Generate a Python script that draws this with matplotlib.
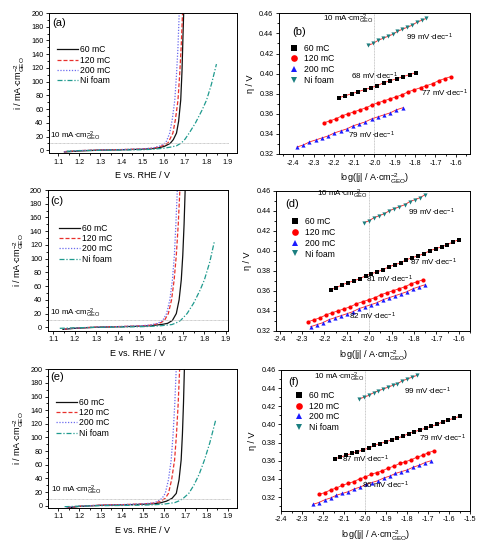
import matplotlib
matplotlib.use("Agg")
import matplotlib.pyplot as plt
from matplotlib.ticker import MultipleLocator, FormatStrFormatter

plt.rcParams['font.family'] = ['Liberation Sans', 'DejaVu Sans']
plt.rcParams['mathtext.default'] = 'regular'
plt.rcParams['axes.unicode_minus'] = False

# ---------------- data: LSV panels ----------------
series_names = ["60 mC", "120 mC", "200 mC", "Ni foam"]

E_a_60 = [1.13, 1.20, 1.30, 1.40, 1.50, 1.55, 1.58, 1.605, 1.63, 1.645, 1.66, 1.67, 1.68, 1.686, 1.691, 1.695]
i_a_60 = [-2.5, -1.0, 0.2, 0.8, 1.5, 2.5, 3.8, 6.0, 10.0, 15.5, 25.0, 42.0, 73.0, 115.0, 170.0, 210.0]
E_a_120 = [1.13, 1.20, 1.30, 1.40, 1.50, 1.55, 1.58, 1.60, 1.62, 1.643, 1.655, 1.667, 1.675, 1.682, 1.690]
i_a_120 = [-2.0, -0.5, 0.5, 1.0, 1.8, 3.0, 5.0, 7.5, 10.7, 25.0, 45.0, 73.0, 110.0, 150.0, 210.0]
E_a_200 = [1.13, 1.20, 1.30, 1.40, 1.50, 1.55, 1.58, 1.609, 1.628, 1.640, 1.652, 1.660, 1.667, 1.674]
i_a_200 = [-2.0, -0.5, 0.5, 1.0, 2.0, 3.5, 6.0, 10.7, 25.0, 45.0, 73.0, 110.0, 150.0, 210.0]
E_a_ni = [1.14, 1.20, 1.30, 1.40, 1.50, 1.55, 1.60, 1.63, 1.66, 1.683, 1.70, 1.72, 1.75, 1.78, 1.802, 1.825, 1.849]
i_a_ni = [-1.5, -0.5, 0.0, 0.3, 0.8, 1.5, 3.0, 4.5, 6.5, 10.7, 16.0, 25.0, 40.0, 58.0, 73.0, 96.0, 125.6]

E_c_60 = [1.145, 1.20, 1.30, 1.40, 1.50, 1.55, 1.58, 1.61, 1.63, 1.652, 1.67, 1.683, 1.693, 1.70, 1.706, 1.712]
i_c_60 = [-3.0, -1.5, 0.0, 0.8, 1.5, 2.3, 3.3, 4.5, 5.8, 10.0, 20.0, 40.0, 69.0, 105.0, 150.0, 210.0]
E_c_120 = [1.15, 1.20, 1.30, 1.40, 1.50, 1.55, 1.58, 1.60, 1.615, 1.633, 1.648, 1.66, 1.670, 1.679, 1.688]
i_c_120 = [-2.5, -1.2, 0.3, 1.0, 1.8, 3.0, 4.8, 7.0, 10.0, 20.0, 40.0, 69.0, 105.0, 150.0, 210.0]
E_c_200 = [1.15, 1.20, 1.30, 1.40, 1.50, 1.55, 1.58, 1.595, 1.607, 1.625, 1.640, 1.652, 1.661, 1.668, 1.676]
i_c_200 = [-2.5, -1.2, 0.3, 1.0, 2.0, 3.3, 5.5, 7.5, 10.0, 20.0, 40.0, 69.0, 105.0, 150.0, 210.0]
E_c_ni = [1.13, 1.20, 1.30, 1.40, 1.50, 1.55, 1.60, 1.65, 1.67, 1.69, 1.72, 1.75, 1.78, 1.80, 1.825, 1.846]
i_c_ni = [-1.5, -0.8, 0.0, 0.3, 0.8, 1.3, 2.3, 4.0, 6.5, 10.0, 20.0, 35.0, 54.0, 69.0, 95.0, 124.6]

E_e_60 = [1.15, 1.20, 1.30, 1.40, 1.50, 1.55, 1.58, 1.61, 1.637, 1.657, 1.670, 1.680, 1.686, 1.691, 1.696]
i_e_60 = [-3.0, -1.0, 0.5, 1.2, 2.0, 2.8, 4.0, 6.5, 10.8, 18.0, 38.0, 67.0, 105.0, 150.0, 210.0]
E_e_120 = [1.14, 1.20, 1.30, 1.40, 1.50, 1.55, 1.58, 1.605, 1.62, 1.635, 1.649, 1.658, 1.666, 1.674]
i_e_120 = [-2.5, -0.8, 0.8, 1.5, 2.5, 3.8, 6.0, 10.8, 18.0, 38.0, 67.0, 105.0, 150.0, 210.0]
E_e_200 = [1.14, 1.20, 1.30, 1.40, 1.50, 1.55, 1.57, 1.59, 1.605, 1.62, 1.633, 1.642, 1.650, 1.658]
i_e_200 = [-2.5, -0.8, 0.8, 1.5, 2.5, 4.0, 6.5, 10.8, 18.0, 38.0, 67.0, 105.0, 150.0, 210.0]
E_e_ni = [1.13, 1.20, 1.30, 1.40, 1.50, 1.55, 1.60, 1.65, 1.67, 1.69, 1.716, 1.74, 1.765, 1.79, 1.815, 1.843]
i_e_ni = [-1.5, -0.8, 0.0, 0.3, 0.8, 1.3, 2.3, 4.5, 7.0, 10.8, 18.0, 30.0, 46.0, 67.0, 92.0, 125.6]

# ---------------- data: Tafel panels ----------------
xb_60 = [-2.176, -2.144, -2.113, -2.081, -2.049, -2.017, -1.986, -1.954, -1.922, -1.890, -1.859, -1.827, -1.795]
yb_60 = [0.376, 0.378, 0.380, 0.382, 0.384, 0.386, 0.388, 0.391, 0.393, 0.395, 0.397, 0.399, 0.401]
xb_120 = [-2.249, -2.219, -2.190, -2.160, -2.130, -2.100, -2.071, -2.041, -2.011, -1.982, -1.952, -1.922, -1.892, -1.863, -1.833, -1.803, -1.773, -1.744, -1.714, -1.684, -1.655, -1.625]
yb_120 = [0.351, 0.353, 0.355, 0.358, 0.360, 0.362, 0.364, 0.366, 0.369, 0.371, 0.373, 0.375, 0.377, 0.379, 0.382, 0.384, 0.386, 0.388, 0.390, 0.393, 0.395, 0.397]
xb_200 = [-2.381, -2.350, -2.320, -2.289, -2.259, -2.228, -2.197, -2.167, -2.136, -2.106, -2.075, -2.045, -2.014, -1.983, -1.953, -1.922, -1.892, -1.861]
yb_200 = [0.327, 0.329, 0.332, 0.334, 0.336, 0.338, 0.341, 0.343, 0.345, 0.348, 0.350, 0.352, 0.355, 0.357, 0.359, 0.361, 0.364, 0.366]
xb_ni = [-2.031, -2.007, -1.983, -1.959, -1.935, -1.911, -1.887, -1.864, -1.840, -1.816, -1.792, -1.768, -1.744]
yb_ni = [0.428, 0.430, 0.433, 0.435, 0.437, 0.439, 0.442, 0.444, 0.446, 0.448, 0.451, 0.453, 0.455]

xd_60 = [-2.173, -2.147, -2.121, -2.095, -2.069, -2.043, -2.016, -1.990, -1.964, -1.938, -1.912, -1.886, -1.860, -1.834, -1.808, -1.782, -1.756, -1.730, -1.703, -1.677, -1.651, -1.625, -1.599]
yd_60 = [0.361, 0.363, 0.366, 0.368, 0.370, 0.372, 0.375, 0.377, 0.379, 0.381, 0.384, 0.386, 0.388, 0.391, 0.393, 0.395, 0.397, 0.400, 0.402, 0.404, 0.406, 0.409, 0.411]
xd_120 = [-2.273, -2.246, -2.219, -2.192, -2.165, -2.138, -2.111, -2.084, -2.057, -2.030, -2.002, -1.975, -1.948, -1.921, -1.894, -1.867, -1.840, -1.813, -1.786, -1.759]
yd_120 = [0.329, 0.331, 0.333, 0.336, 0.338, 0.340, 0.342, 0.344, 0.347, 0.349, 0.351, 0.353, 0.356, 0.358, 0.360, 0.362, 0.364, 0.367, 0.369, 0.371]
xd_200 = [-2.262, -2.235, -2.208, -2.181, -2.154, -2.127, -2.100, -2.074, -2.047, -2.020, -1.993, -1.966, -1.939, -1.912, -1.885, -1.858, -1.832, -1.805, -1.778, -1.751]
yd_200 = [0.324, 0.326, 0.328, 0.331, 0.333, 0.335, 0.337, 0.339, 0.342, 0.344, 0.346, 0.348, 0.351, 0.353, 0.355, 0.357, 0.359, 0.362, 0.364, 0.366]
xd_ni = [-2.024, -2.001, -1.979, -1.956, -1.933, -1.910, -1.888, -1.865, -1.842, -1.820, -1.797, -1.774, -1.751]
yd_ni = [0.428, 0.430, 0.433, 0.435, 0.437, 0.440, 0.442, 0.444, 0.446, 0.449, 0.451, 0.453, 0.456]

xf_60 = [-2.146, -2.119, -2.092, -2.064, -2.037, -2.010, -1.983, -1.956, -1.929, -1.901, -1.874, -1.847, -1.820, -1.793, -1.766, -1.738, -1.711, -1.684, -1.657, -1.630, -1.603, -1.575, -1.548]
yf_60 = [0.362, 0.364, 0.366, 0.368, 0.370, 0.372, 0.374, 0.377, 0.379, 0.381, 0.383, 0.385, 0.387, 0.390, 0.392, 0.394, 0.396, 0.398, 0.400, 0.403, 0.405, 0.407, 0.409]
xf_120 = [-2.219, -2.192, -2.164, -2.137, -2.109, -2.082, -2.055, -2.027, -2.000, -1.973, -1.945, -1.918, -1.890, -1.863, -1.836, -1.808, -1.781, -1.753, -1.726, -1.699, -1.671]
yf_120 = [0.323, 0.325, 0.328, 0.330, 0.333, 0.335, 0.337, 0.340, 0.342, 0.345, 0.347, 0.349, 0.352, 0.354, 0.357, 0.359, 0.361, 0.364, 0.366, 0.369, 0.371]
xf_200 = [-2.249, -2.221, -2.193, -2.165, -2.137, -2.109, -2.080, -2.052, -2.024, -1.996, -1.968, -1.940, -1.912, -1.884, -1.856, -1.828, -1.799, -1.771, -1.743, -1.715, -1.687]
yf_200 = [0.312, 0.314, 0.317, 0.319, 0.322, 0.324, 0.326, 0.329, 0.331, 0.334, 0.336, 0.338, 0.341, 0.343, 0.346, 0.348, 0.350, 0.353, 0.355, 0.358, 0.360]
xf_ni = [-2.029, -2.006, -1.983, -1.960, -1.937, -1.914, -1.892, -1.869, -1.846, -1.823, -1.800, -1.777, -1.754]
yf_ni = [0.428, 0.430, 0.432, 0.435, 0.437, 0.439, 0.441, 0.443, 0.445, 0.448, 0.450, 0.452, 0.454]

slope_labels_b = ["99 mV·dec$^{-1}$", "68 mV·dec$^{-1}$", "77 mV·dec$^{-1}$", "79 mV·dec$^{-1}$"]
slope_labels_d = ["99 mV·dec$^{-1}$", "87 mV·dec$^{-1}$", "81 mV·dec$^{-1}$", "82 mV·dec$^{-1}$"]
slope_labels_f = ["99 mV·dec$^{-1}$", "79 mV·dec$^{-1}$", "87 mV·dec$^{-1}$", "86 mV·dec$^{-1}$"]

# ---------------- styles ----------------
lsv_colors = ['#111111', '#e8302c', '#6a6aee', '#1f9a8e']
lsv_styles = ['-', (0, (3.2, 1.6)), (0, (1, 1.3)), (0, (4, 1.5, 1, 1.5))]
taf_colors = ['#000000', '#ff0000', '#1a1aff', '#1b7f80']
taf_markers = ['s', 'o', '^', 'v']

TICK_FS = 5.2
LAB_FS = 6.5
LEG_FS = 6.2
ref_label = "10 mA·cm$^{-2}_{GEO}$"

fig = plt.figure(figsize=(4.84, 5.5), dpi=100)

def style_axes(ax):
    for s in ax.spines.values():
        s.set_linewidth(0.7)
    ax.tick_params(which='both', direction='out', top=False, right=False,
                   labelsize=TICK_FS, width=0.6, pad=1.5)
    ax.tick_params(which='major', length=2.5)
    ax.tick_params(which='minor', length=1.4)

def lsv_panel(rect, xlim, ylim, curves, tag, tagpos, legpos, refpos):
    ax = fig.add_axes(rect)
    for (E, I), c, ls, nm in zip(curves, lsv_colors, lsv_styles, series_names):
        ax.plot(E, I, color=c, ls=ls, lw=0.9, label=nm)
    ax.plot([xlim[0], 1.91], [10, 10], color='#bbbbbb', lw=0.6, ls=(0, (1, 0.6)))
    ax.set_xlim(*xlim)
    ax.set_ylim(*ylim)
    ax.xaxis.set_major_locator(MultipleLocator(0.1))
    ax.xaxis.set_minor_locator(MultipleLocator(0.05))
    ax.xaxis.set_major_formatter(FormatStrFormatter('%.1f'))
    ax.yaxis.set_major_locator(MultipleLocator(20))
    ax.yaxis.set_minor_locator(MultipleLocator(10))
    style_axes(ax)
    ax.set_xlabel("E vs. RHE / V", fontsize=LAB_FS, labelpad=4)
    ax.set_ylabel("i / mA·cm$^{-2}_{GEO}$", fontsize=LAB_FS, labelpad=3)
    ax.text(tagpos[0], tagpos[1], tag, transform=ax.transAxes, fontsize=8,
            va='center', ha='left')
    ax.text(refpos[0], refpos[1], ref_label, fontsize=5.8, ha='left', va='center')
    ax.legend(loc='upper left', bbox_to_anchor=legpos, frameon=False,
              fontsize=LEG_FS, handlelength=2.4, labelspacing=0.15,
              borderpad=0.0, borderaxespad=0.0, handletextpad=0.3)
    return ax

def tafel_panel(rect, xlim, ylim, pts, tag, tagpos, legpos, refpos, slopes, slope_pos):
    ax = fig.add_axes(rect)
    ax.axvline(-2.0, color='#c8c8c8', lw=0.7, ls=(0, (1, 0.6)))
    for (x, y), c, m, nm in zip(pts, taf_colors, taf_markers, series_names):
        ax.plot(x, y, color='#ff2020', lw=0.6, zorder=2)
        ax.plot(x, y, ls='none', marker=m, color=c, markersize=3.0,
                markeredgewidth=0, label=nm, zorder=3)
    ax.set_xlim(*xlim)
    ax.set_ylim(*ylim)
    ax.xaxis.set_major_locator(MultipleLocator(0.1))
    ax.xaxis.set_minor_locator(MultipleLocator(0.05))
    ax.xaxis.set_major_formatter(FormatStrFormatter('%.1f'))
    ax.yaxis.set_major_locator(MultipleLocator(0.02))
    ax.yaxis.set_minor_locator(MultipleLocator(0.01))
    ax.yaxis.set_major_formatter(FormatStrFormatter('%.2f'))
    style_axes(ax)
    ax.set_xlabel("log(|j| / A·cm$^{-2}_{GEO}$)", fontsize=LAB_FS, labelpad=4)
    ax.set_ylabel("η / V", fontsize=LAB_FS, labelpad=3)
    ax.text(tagpos[0], tagpos[1], tag, fontsize=8, va='center', ha='left')
    ax.text(refpos[0], refpos[1], ref_label, fontsize=5.8, ha='left', va='center')
    for s, p in zip(slopes, slope_pos):
        ax.text(p[0], p[1], s, fontsize=5.8, ha='left', va='center')
    ax.legend(loc='upper left', bbox_to_anchor=legpos, frameon=False,
              fontsize=LEG_FS, markerscale=1.6, labelspacing=0.2,
              borderpad=0.0, borderaxespad=0.0, handletextpad=0.6,
              handlelength=1.2)
    return ax

# (a)
lsv_panel([0.1012, 0.7218, 0.3884, 0.2545], (1.057, 1.946), (-4, 200),
          [(E_a_60, i_a_60), (E_a_120, i_a_120), (E_a_200, i_a_200), (E_a_ni, i_a_ni)],
          "(a)", (0.02, 0.93), (0.043, 0.77), (1.062, 20))
# (c)
lsv_panel([0.0985, 0.3987, 0.3719, 0.2558], (1.074, 1.908), (-5, 200),
          [(E_c_60, i_c_60), (E_c_120, i_c_120), (E_c_200, i_c_200), (E_c_ni, i_c_ni)],
          "(c)", (0.013, 0.924), (0.063, 0.76), (1.085, 21))
# (e)
lsv_panel([0.0998, 0.0769, 0.3905, 0.2516], (1.053, 1.945), (-3, 200),
          [(E_e_60, i_e_60), (E_e_120, i_e_120), (E_e_200, i_e_200), (E_e_ni, i_e_ni)],
          "(e)", (0.012, 0.947), (0.041, 0.795), (1.064, 23))

# (b)
tafel_panel([0.5764, 0.72, 0.3946, 0.2558], (-2.47, -1.53), (0.32, 0.46),
            [(xb_60, yb_60), (xb_120, yb_120), (xb_200, yb_200), (xb_ni, yb_ni)],
            "(b)", (-2.406, 0.441), (0.05, 0.785), (-2.254, 0.4535),
            slopes=slope_labels_b,
            slope_pos=[(-1.843, 0.436), (-2.116, 0.3976), (-1.77, 0.380), (-2.13, 0.339)])
# (d)
tafel_panel([0.5709, 0.3987, 0.4002, 0.2545], (-2.415, -1.55), (0.32, 0.46),
            [(xd_60, yd_60), (xd_120, yd_120), (xd_200, yd_200), (xd_ni, yd_ni)],
            "(d)", (-2.377, 0.447), (0.068, 0.81), (-2.232, 0.456),
            slopes=slope_labels_d,
            slope_pos=[(-1.827, 0.438), (-1.818, 0.388), (-2.016, 0.371), (-2.09, 0.334)])
# (f)
tafel_panel([0.5812, 0.0715, 0.39, 0.2558], (-2.4, -1.5), (0.305, 0.46),
            [(xf_60, yf_60), (xf_120, yf_120), (xf_200, yf_200), (xf_ni, yf_ni)],
            "(f)", (-2.365, 0.447), (0.066, 0.852), (-2.246, 0.4515),
            slopes=slope_labels_f,
            slope_pos=[(-1.817, 0.436), (-1.745, 0.385), (-2.11, 0.362), (-2.015, 0.333)])

fig.savefig("out.png", dpi=100)
